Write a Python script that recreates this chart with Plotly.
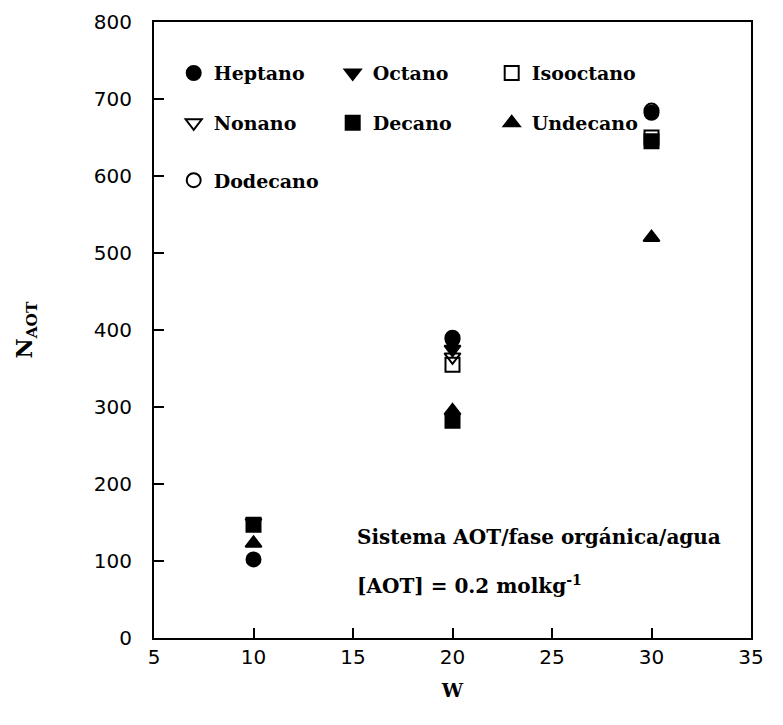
import plotly.graph_objects as go

# Data
series_names = ["Heptano", "Octano", "Isooctano", "Nonano", "Decano", "Undecano", "Dodecano"]
heptano_w = [10, 20, 30]
heptano_n = [102, 390, 682]
octano_w = [10, 20]
octano_n = [150, 375]
isooctano_w = [20, 30]
isooctano_n = [355, 650]
nonano_w = [20]
nonano_n = [365]
decano_w = [10, 20, 30]
decano_n = [147, 282, 645]
undecano_w = [10, 20, 30]
undecano_n = [123, 295, 520]
dodecano_w = [20, 30]
dodecano_n = [388, 685]

x_ticks = [5, 10, 15, 20, 25, 30, 35]
y_ticks = [0, 100, 200, 300, 400, 500, 600, 700, 800]

symbols = {
    "Heptano": "circle", "Octano": "triangle-down", "Isooctano": "square-open",
    "Nonano": "triangle-down-open", "Decano": "square", "Undecano": "triangle-up",
    "Dodecano": "circle-open",
}
data = {
    "Heptano": (heptano_w, heptano_n), "Octano": (octano_w, octano_n),
    "Isooctano": (isooctano_w, isooctano_n), "Nonano": (nonano_w, nonano_n),
    "Decano": (decano_w, decano_n), "Undecano": (undecano_w, undecano_n),
    "Dodecano": (dodecano_w, dodecano_n),
}
legend_of = {"Heptano": "legend", "Octano": "legend", "Isooctano": "legend",
             "Nonano": "legend2", "Decano": "legend2", "Undecano": "legend2",
             "Dodecano": "legend3"}

serif = "DejaVu Serif"
fig = go.Figure()
for name in series_names:
    xs, ys = data[name]
    fig.add_trace(go.Scatter(
        x=xs, y=ys, mode="markers", name=name, legend=legend_of[name],
        marker=dict(symbol=symbols[name], size=14, color="black",
                    line=dict(color="black", width=2)),
    ))

leg_common = dict(orientation="h", xanchor="left", yanchor="middle",
                  bgcolor="rgba(0,0,0,0)", entrywidth=114, entrywidthmode="pixels",
                  font=dict(family=serif, size=19, color="black", weight="bold"),
                  itemwidth=30)

fig.update_layout(
    width=783, height=725,
    margin=dict(l=146, r=40, t=14, b=95, autoexpand=False),
    plot_bgcolor="white", paper_bgcolor="white",
    showlegend=True,
    legend=dict(x=0.033, y=0.917, **leg_common),
    legend2=dict(x=0.033, y=0.836, **leg_common),
    legend3=dict(x=0.033, y=0.743, **leg_common),
    xaxis=dict(range=[5, 35], tickvals=x_ticks, ticks="inside", ticklen=10,
               tickwidth=1.5, tickcolor="black", showgrid=False, zeroline=False,
               showline=True, linecolor="black", linewidth=2, mirror=True,
               tickfont=dict(family="DejaVu Sans", size=20, color="black"),
               title=dict(text="<b>W</b>", font=dict(family=serif, size=19, color="black"),
                          standoff=16)),
    yaxis=dict(range=[0, 800], tickvals=y_ticks, ticks="inside", ticklen=10,
               tickwidth=1.5, tickcolor="black", showgrid=False, zeroline=False,
               showline=True, linecolor="black", linewidth=2, mirror=True,
               ticklabelstandoff=16,
               tickfont=dict(family="DejaVu Sans", size=20, color="black"),
               title=dict(text="<b>N<sub>AOT</sub></b>",
                          font=dict(family=serif, size=22, color="black"), standoff=55)),
)

fig.add_annotation(xref="x", yref="y", x=15.1, y=131, xanchor="left", yanchor="middle",
                   text="Sistema AOT/fase orgánica/agua", showarrow=False,
                   font=dict(family=serif, size=20, color="black", weight="bold"))
fig.add_annotation(xref="x", yref="y", x=15.1, y=69, xanchor="left", yanchor="middle",
                   text="[AOT] = 0.2 molkg<sup>-1</sup>", showarrow=False,
                   font=dict(family=serif, size=20, color="black", weight="bold"))

fig.write_html("out.html")
